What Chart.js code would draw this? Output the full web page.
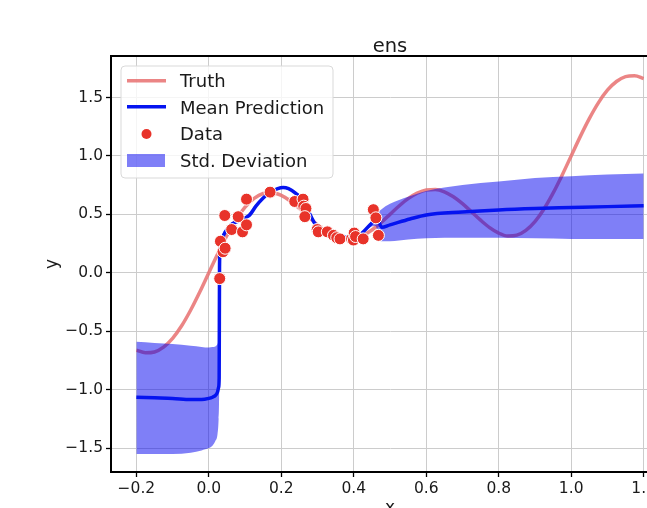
<!DOCTYPE html>
<html>
<head>
<meta charset="utf-8">
<title>ens</title>
<script src="https://cdn.jsdelivr.net/npm/chart.js@4.4.0/dist/chart.umd.min.js"></script>
<style>
  html, body { margin: 0; padding: 0; overflow: hidden; background: #fff; }
  canvas { display: block; }
</style>
</head>
<body>
<canvas id="chart" width="700" height="508"></canvas>
<script>
// values
var truthX = [-0.2, -0.175, -0.15, -0.125, -0.1, -0.075, -0.05, -0.025, 0, 0.025, 0.05, 0.075, 0.1, 0.125, 0.15, 0.175,
  0.2, 0.225, 0.25, 0.275, 0.3, 0.325, 0.35, 0.375, 0.4, 0.425, 0.45, 0.475, 0.5, 0.525, 0.55, 0.575, 0.6, 0.625,
  0.65, 0.675, 0.7, 0.725, 0.75, 0.775, 0.8, 0.825, 0.85, 0.875, 0.9, 0.925, 0.95, 0.975, 1.0, 1.025, 1.05, 1.075,
  1.1, 1.125, 1.15, 1.175, 1.2];
var truthY = [-0.662, -0.685, -0.678, -0.637, -0.562, -0.454, -0.319, -0.165, 0, 0.165, 0.319, 0.454, 0.562, 0.637, 0.678, 0.685,
  0.662, 0.614, 0.55, 0.479, 0.409, 0.35, 0.307, 0.287, 0.291, 0.319, 0.366, 0.429, 0.5, 0.571, 0.634, 0.681, 0.709, 0.713,
  0.693, 0.65, 0.591, 0.521, 0.45, 0.386, 0.339, 0.315, 0.322, 0.363, 0.438, 0.546, 0.681, 0.835, 1.0, 1.165, 1.319, 1.454,
  1.562, 1.637, 1.678, 1.685, 1.662];

var meanX = [-0.2, -0.15, -0.1, -0.05, -0.02, 0.0, 0.01, 0.018, 0.024, 0.027, 0.0285, 0.0295, 0.031, 0.035, 0.042, 0.05,
  0.065, 0.08, 0.1, 0.113, 0.13, 0.15, 0.17, 0.19, 0.205, 0.22, 0.24, 0.26, 0.279, 0.293, 0.316, 0.34, 0.362, 0.394,
  0.417, 0.445, 0.46, 0.468, 0.477, 0.5, 0.555, 0.6, 0.7, 0.8, 0.9, 1.0, 1.1, 1.2];
var meanY = [-1.065, -1.07, -1.075, -1.085, -1.085, -1.075, -1.065, -1.05, -1.02, -0.98, -0.9, 0.05, 0.2, 0.27, 0.33, 0.37,
  0.42, 0.44, 0.47, 0.495, 0.57, 0.64, 0.69, 0.72, 0.73, 0.72, 0.68, 0.62, 0.5, 0.42, 0.37, 0.33, 0.31, 0.3,
  0.325, 0.41, 0.45, 0.44, 0.39, 0.41, 0.46, 0.495, 0.52, 0.538, 0.55, 0.558, 0.566, 0.573];

var bandX = [-0.2, -0.15, -0.1, -0.05, -0.02, 0.0, 0.01, 0.018, 0.024, 0.027, 0.0285, 0.0295, 0.031, 0.05, 0.1, 0.15,
  0.205, 0.26, 0.3, 0.35, 0.394, 0.42, 0.445, 0.46, 0.468, 0.475, 0.5, 0.55, 0.6, 0.7, 0.8, 0.9, 1.0, 1.1, 1.2];
var bandUpper = [-0.59, -0.6, -0.61, -0.625, -0.635, -0.64, -0.635, -0.63, -0.61, -0.58, -0.5, 0.06, 0.21, 0.38, 0.48, 0.65,
  0.74, 0.63, 0.41, 0.33, 0.31, 0.34, 0.43, 0.49, 0.52, 0.54, 0.59, 0.65, 0.7, 0.75, 0.78, 0.81, 0.825, 0.84, 0.85];
var bandLower = [-1.55, -1.55, -1.55, -1.54, -1.52, -1.5, -1.48, -1.44, -1.38, -1.25, -1.0, 0.04, 0.19, 0.36, 0.46, 0.63,
  0.72, 0.61, 0.39, 0.31, 0.29, 0.32, 0.39, 0.4, 0.32, 0.27, 0.27, 0.285, 0.295, 0.3, 0.3, 0.295, 0.29, 0.29, 0.29];

var dataX = [0.030, 0.032, 0.039, 0.045, 0.044, 0.063, 0.081, 0.093, 0.104, 0.104, 0.169, 0.237, 0.260, 0.262, 0.268,
  0.265, 0.299, 0.302, 0.327, 0.344, 0.353, 0.362, 0.394, 0.399, 0.401, 0.405, 0.426, 0.454, 0.461, 0.468];
var dataY = [-0.05, 0.27, 0.18, 0.21, 0.49, 0.37, 0.48, 0.35, 0.41, 0.63, 0.69, 0.61, 0.63, 0.57, 0.55,
  0.48, 0.37, 0.35, 0.35, 0.32, 0.3, 0.29, 0.29, 0.28, 0.34, 0.31, 0.29, 0.54, 0.47, 0.32];

var xTicks = [-0.2, 0, 0.2, 0.4, 0.6, 0.8, 1.0, 1.2];
var yTicks = [-1.5, -1.0, -0.5, 0, 0.5, 1.0, 1.5];
var legendLabels = ['Truth', 'Mean Prediction', 'Data', 'Std. Deviation'];

var truthColor = 'rgba(232,112,112,0.85)';
var meanColor = '#0514f0';
var bandColor = 'rgba(0,0,240,0.5)';
var dataColor = '#e8332a';
var fontFamily = '"DejaVu Sans", sans-serif';

function pairs(xs, ys) {
  var out = [];
  for (var i = 0; i < xs.length; i++) {
    out.push({x: xs[i], y: ys[i]});
  }
  return out;
}

function fmt(v) {
  return v.toFixed(1).replace('-', '\u2212');
}

function drawLegend(ctx) {
  var x0 = 121, y0 = 66, w = 212, h = 112, r = 4;
  ctx.save();
  ctx.beginPath();
  ctx.moveTo(x0 + r, y0);
  ctx.lineTo(x0 + w - r, y0);
  ctx.arcTo(x0 + w, y0, x0 + w, y0 + r, r);
  ctx.lineTo(x0 + w, y0 + h - r);
  ctx.arcTo(x0 + w, y0 + h, x0 + w - r, y0 + h, r);
  ctx.lineTo(x0 + r, y0 + h);
  ctx.arcTo(x0, y0 + h, x0, y0 + h - r, r);
  ctx.lineTo(x0, y0 + r);
  ctx.arcTo(x0, y0, x0 + r, y0, r);
  ctx.closePath();
  ctx.fillStyle = 'rgba(255,255,255,0.8)';
  ctx.fill();
  ctx.strokeStyle = '#d9d9d9';
  ctx.lineWidth = 1;
  ctx.stroke();

  // handles
  ctx.lineWidth = 3.5;
  ctx.strokeStyle = truthColor;
  ctx.beginPath(); ctx.moveTo(127, 80.7); ctx.lineTo(166, 80.7); ctx.stroke();
  ctx.strokeStyle = meanColor;
  ctx.beginPath(); ctx.moveTo(127, 106.7); ctx.lineTo(166, 106.7); ctx.stroke();
  ctx.fillStyle = dataColor;
  ctx.beginPath(); ctx.arc(146.5, 134, 5, 0, Math.PI * 2); ctx.fill();
  ctx.fillStyle = bandColor;
  ctx.fillRect(127, 154, 38, 13);

  ctx.fillStyle = '#1a1a1a';
  ctx.font = '18px ' + fontFamily;
  ctx.textAlign = 'left';
  ctx.textBaseline = 'alphabetic';
  var baselines = [87.3, 113.8, 140.3, 166.8];
  for (var i = 0; i < legendLabels.length; i++) {
    ctx.fillText(legendLabels[i], 180, baselines[i]);
  }
  ctx.restore();
}

var decor = {
  id: 'decor',
  afterDraw: function(chart) {
    var ctx = chart.ctx;
    var a = chart.chartArea;
    ctx.save();
    // top spine
    ctx.strokeStyle = '#000';
    ctx.lineWidth = 2;
    ctx.beginPath();
    ctx.moveTo(a.left - 1, a.top);
    ctx.lineTo(a.right + 1, a.top);
    ctx.stroke();

    ctx.fillStyle = '#1a1a1a';
    ctx.font = '19.5px ' + fontFamily;
    ctx.textAlign = 'center';
    ctx.textBaseline = 'alphabetic';
    ctx.fillText('ens', (a.left + a.right) / 2, 52);

    ctx.font = '17px ' + fontFamily;
    ctx.textBaseline = 'top';
    ctx.fillText('x', (a.left + a.right) / 2, 500);

    ctx.translate(53, (a.top + a.bottom) / 2);
    ctx.rotate(-Math.PI / 2);
    ctx.textBaseline = 'middle';
    ctx.fillText('y', 0, 0);
    ctx.restore();

    drawLegend(ctx);
  }
};

var tickFont = {family: fontFamily, size: 15.5};

var chart = new Chart(document.getElementById('chart'), {
  type: 'line',
  data: {
    datasets: [
      {
        label: 'Data',
        data: pairs(dataX, dataY),
        showLine: false,
        pointRadius: 6,
        pointBorderWidth: 1,
        pointBackgroundColor: dataColor,
        pointBorderColor: '#ffffff',
        order: 1
      },
      {
        label: 'Mean Prediction',
        data: pairs(meanX, meanY),
        borderColor: meanColor,
        borderWidth: 3.5,
        pointRadius: 0,
        cubicInterpolationMode: 'monotone',
        fill: false,
        order: 2
      },
      {
        label: 'upper',
        data: pairs(bandX, bandUpper),
        borderColor: 'rgba(0,0,0,0)',
        borderWidth: 0,
        pointRadius: 0,
        cubicInterpolationMode: 'monotone',
        fill: false,
        order: 3
      },
      {
        label: 'Std. Deviation',
        data: pairs(bandX, bandLower),
        borderColor: 'rgba(0,0,0,0)',
        borderWidth: 0,
        pointRadius: 0,
        cubicInterpolationMode: 'monotone',
        backgroundColor: bandColor,
        fill: 2,
        order: 4
      },
      {
        label: 'Truth',
        data: pairs(truthX, truthY),
        borderColor: truthColor,
        borderWidth: 3.5,
        pointRadius: 0,
        cubicInterpolationMode: 'monotone',
        fill: false,
        order: 6
      }
    ]
  },
  options: {
    responsive: false,
    animation: false,
    events: [],
    layout: { padding: { top: 56, right: 31, left: 0, bottom: 0 } },
    plugins: {
      legend: { display: false },
      tooltip: { enabled: false },
      title: { display: false }
    },
    scales: {
      x: {
        type: 'linear',
        min: -0.27,
        max: 1.27,
        afterFit: function(scale) { scale.height = 36; },
        afterBuildTicks: function(scale) {
          scale.ticks = xTicks.map(function(v) { return {value: v}; });
        },
        ticks: {
          autoSkip: false,
          maxRotation: 0,
          padding: 3,
          color: '#1a1a1a',
          font: tickFont,
          callback: function(v) { return fmt(v); }
        },
        grid: { color: '#cccccc', lineWidth: 1, tickColor: '#000', tickLength: 5, tickWidth: 1.3 },
        border: { display: true, color: '#000', width: 2 }
      },
      y: {
        type: 'linear',
        min: -1.705,
        max: 1.855,
        afterFit: function(scale) { scale.width = 111; },
        afterBuildTicks: function(scale) {
          scale.ticks = yTicks.map(function(v) { return {value: v}; });
        },
        ticks: {
          autoSkip: false,
          padding: 3,
          color: '#1a1a1a',
          font: tickFont,
          callback: function(v) { return fmt(v); }
        },
        grid: { color: '#cccccc', lineWidth: 1, tickColor: '#000', tickLength: 5, tickWidth: 1.3 },
        border: { display: true, color: '#000', width: 2 }
      }
    }
  },
  plugins: [decor]
});
</script>
</body>
</html>
